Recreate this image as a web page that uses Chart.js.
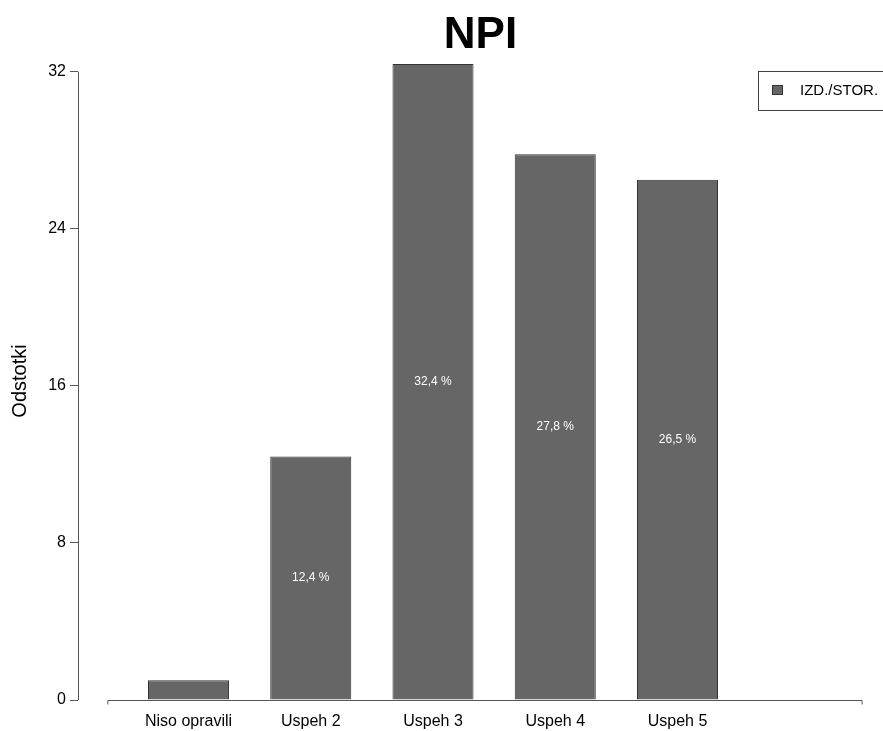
<!DOCTYPE html>
<html>
<head>
<meta charset="utf-8">
<title>NPI</title>
<script src="https://cdn.jsdelivr.net/npm/chart.js@4.4.1/dist/chart.umd.min.js"></script>
<style>
  html, body { margin: 0; padding: 0; background: #ffffff; }
  canvas { display: block; }
</style>
</head>
<body>
<canvas id="npiChart" width="883" height="731"></canvas>
<script>
// Chart data
const categories = ['Niso opravili', 'Uspeh 2', 'Uspeh 3', 'Uspeh 4', 'Uspeh 5'];
const seriesLabel = 'IZD./STOR.';
const seriesValues = [1.0, 12.4, 32.4, 27.8, 26.5];
const yTicks = [0, 8, 16, 24, 32];

const FONT = "'Liberation Sans', Arial, sans-serif";
const BAR_FILL = '#666666';
const BAR_EDGE = '#333333';
const AXIS_COLOR = '#555555';

// x range in category-index units (bar centres sit on 0, 1, 2 ...)
const X_MIN = -0.904;
const X_MAX = 5.681;
const X_AXIS_FROM = -0.66;
const X_AXIS_TO = 5.51;

// R-style detached axis lines
const axisLinesPlugin = {
  id: 'axisLines',
  afterDraw(chart) {
    const { ctx, scales: { x, y } } = chart;
    const y0 = y.getPixelForValue(0);
    ctx.save();
    ctx.strokeStyle = AXIS_COLOR;
    ctx.lineWidth = 1;
    ctx.beginPath();
    const ax = Math.round(chart.chartArea.left) + 0.5;
    ctx.moveTo(ax, y.getPixelForValue(yTicks[yTicks.length - 1]));
    ctx.lineTo(ax, y0);
    const xa = x.getPixelForValue(X_AXIS_FROM);
    const xb = x.getPixelForValue(X_AXIS_TO);
    const yy = Math.round(y0) + 0.5;
    ctx.moveTo(xa, yy + 4);
    ctx.lineTo(xa, yy);
    ctx.lineTo(xb, yy);
    ctx.lineTo(xb, yy + 4);
    ctx.stroke();
    ctx.restore();
  }
};

// Percentage labels in the middle of each bar
const barLabelsPlugin = {
  id: 'barLabels',
  afterDatasetsDraw(chart) {
    const { ctx } = chart;
    const meta = chart.getDatasetMeta(0);
    ctx.save();
    ctx.fillStyle = '#ffffff';
    ctx.font = '12px ' + FONT;
    ctx.textAlign = 'center';
    ctx.textBaseline = 'middle';
    meta.data.forEach((bar, i) => {
      const v = seriesValues[i];
      if (v < 5) return; // too short to hold a label
      ctx.fillText(v.toFixed(1).replace('.', ',') + ' %', bar.x, (bar.y + bar.base) / 2);
    });
    ctx.restore();
  }
};

// Boxed legend in the top right corner
const boxLegendPlugin = {
  id: 'boxLegend',
  afterDraw(chart) {
    const { ctx, chartArea } = chart;
    const ds = chart.data.datasets[0];
    const left = chartArea.right - 125;
    const top = chartArea.top + 9;
    ctx.save();
    ctx.strokeStyle = '#444444';
    ctx.lineWidth = 1;
    ctx.strokeRect(left + 0.5, top + 0.5, 160, 39);
    ctx.fillStyle = ds.backgroundColor;
    ctx.strokeStyle = ds.borderColor;
    ctx.fillRect(left + 14, top + 14, 11, 10);
    ctx.strokeRect(left + 14.5, top + 14.5, 10, 9);
    ctx.fillStyle = '#000000';
    ctx.font = '15px ' + FONT;
    ctx.textBaseline = 'middle';
    ctx.fillText(ds.label, left + 42, top + 20);
    ctx.restore();
  }
};

const ctx = document.getElementById('npiChart').getContext('2d');
new Chart(ctx, {
  type: 'bar',
  data: {
    datasets: [{
      label: seriesLabel,
      data: seriesValues.map((v, i) => ({ x: i, y: v })),
      backgroundColor: BAR_FILL,
      borderColor: BAR_EDGE,
      borderWidth: 1,
      barPercentage: 1,
      categoryPercentage: 0.663
    }]
  },
  options: {
    responsive: false,
    animation: false,
    layout: { padding: 0 },
    scales: {
      x: {
        type: 'linear',
        offset: false,
        min: X_MIN,
        max: X_MAX,
        afterBuildTicks: s => { s.ticks = categories.map((c, i) => ({ value: i })); },
        afterFit: s => { s.height = 31; },
        border: { display: false },
        grid: { display: false, drawTicks: false },
        ticks: {
          callback: v => categories[v] ?? '',
          autoSkip: false,
          maxRotation: 0,
          padding: 12,
          color: '#000000',
          font: { family: FONT, size: 16 }
        }
      },
      y: {
        min: 0,
        max: 32.5,
        afterBuildTicks: s => { s.ticks = yTicks.map(v => ({ value: v })); },
        afterFit: s => { s.width = 78; },
        border: { display: false },
        grid: {
          drawOnChartArea: false,
          drawTicks: true,
          tickLength: 8,
          color: AXIS_COLOR
        },
        ticks: {
          padding: 4,
          color: '#000000',
          font: { family: FONT, size: 16 }
        },
        title: {
          display: true,
          text: 'Odstotki',
          color: '#000000',
          font: { family: FONT, size: 20 },
          padding: { top: 8, bottom: 0 }
        }
      }
    },
    plugins: {
      legend: { display: false },
      tooltip: { enabled: false },
      title: {
        display: true,
        text: 'NPI',
        fullSize: false,
        color: '#000000',
        font: { family: FONT, size: 44, weight: 'bold', lineHeight: 1 },
        padding: { top: 14, bottom: 4 }
      }
    }
  },
  plugins: [axisLinesPlugin, barLabelsPlugin, boxLegendPlugin]
});
</script>
</body>
</html>
